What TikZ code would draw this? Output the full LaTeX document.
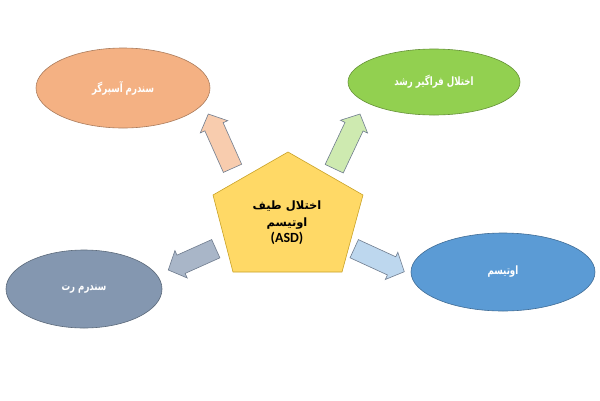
\documentclass[tikz,border=0pt]{standalone}
\usepackage{fontspec}
\setmainfont{Carlito}
\newfontfamily\farsi[Script=Arabic]{DejaVu Sans}
\newfontfamily\farsinarrow[Script=Arabic,FakeStretch=0.75]{DejaVu Sans}
\TeXXeTstate=1
\usetikzlibrary{shapes.geometric,calc}

\definecolor{asperfill}{HTML}{F4B183}
\definecolor{pddfill}{HTML}{92D050}
\definecolor{rettfill}{HTML}{8497B0}
\definecolor{autfill}{HTML}{5B9BD5}
\definecolor{asdfill}{HTML}{FFD966}
\definecolor{asdline}{HTML}{C9A227}
\definecolor{arrowline}{HTML}{6F7C8E}

\newcommand{\fatarrow}[3]{%
	\coordinate (#1-#2) at ($(#2)!14pt!(#1)$);
	\draw[blockarrow,fill=#3] ($(#1)!10pt!90:(#2)$) -- ($(#1-#2)!10pt!90:(#2)$) -- ($(#1-#2)!15pt!90:(#2)$) -- (#2)
		-- ($(#1-#2)!15pt!-90:(#2)$) -- ($(#1-#2)!10pt!-90:(#2)$) -- ($(#1)!10pt!-90:(#2)$) -- cycle;
}

\begin{document}
\begin{tikzpicture}[x=1pt,y=-1pt,
		bubble/.style={ellipse,draw,line width=0.6pt,inner sep=0pt,text=white,font=\farsinarrow\bfseries\fontsize{11.5}{14}\selectfont},
		blockarrow/.style={draw=arrowline,line width=0.6pt,line join=miter}]
	\path[fill=white] (0,0) rectangle (600,400);

	\draw[fill=asdfill,draw=asdline,line width=0.6pt] (288,152) -- (363,195) -- (342,272) -- (233,272) -- (213,195) -- cycle;
	\node (asd) [align=center,font=\bfseries\fontsize{11.5}{16.5}\selectfont] at (287,223) {
		{\farsi\beginR اختلال طیف\endR}\\
		{\farsi\beginR اوتیسم\endR}\\
		{\fontsize{14}{16}\selectfont (ASD)}
	};

	\node (asper) [bubble,fill=asperfill,draw=asperfill!70!black,minimum width=174pt,minimum height=80pt] at (123,88) {\beginR سندرم آسپرگر\endR};
	\node (pdd) [bubble,fill=pddfill,draw=pddfill!70!black,minimum width=172pt,minimum height=66pt] at (434,82) {\beginR اختلال فراگیر رشد\endR};
	\node (rett) [bubble,fill=rettfill,draw=rettfill!70!black,minimum width=156pt,minimum height=78pt] at (84,289) {\beginR سندرم رت\endR};
	\node (aut) [bubble,fill=autfill,draw=autfill!70!black,minimum width=184pt,minimum height=78pt] at (503,272) {\beginR اوتیسم\endR};

	\coordinate (t1) at (232.5,168.3);
	\coordinate (h1) at (208.3,114);
	\coordinate (t2) at (334.2,168.7);
	\coordinate (h2) at (360,114);
	\coordinate (t3) at (215.8,248.7);
	\coordinate (h3) at (168.3,270);
	\coordinate (t4) at (354.2,248.7);
	\coordinate (h4) at (404.3,271.7);

	\fatarrow{t1}{h1}{asperfill!65!white}
	\fatarrow{t2}{h2}{pddfill!45!white}
	\fatarrow{t3}{h3}{rettfill!70!white}
	\fatarrow{t4}{h4}{autfill!40!white}
\end{tikzpicture}
\end{document}
